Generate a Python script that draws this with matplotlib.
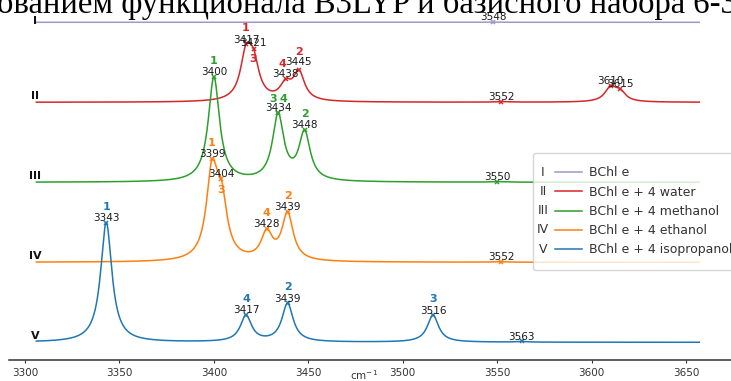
"""
Stacked IR spectra (O-H stretch region) of BChl e and its solvent complexes.
"""
import numpy as np
import matplotlib
matplotlib.use("Agg")
import matplotlib.pyplot as plt
from matplotlib.legend_handler import HandlerBase
from matplotlib.lines import Line2D
from matplotlib.text import Text

# spectra, top to bottom
numerals = ["I", "II", "III", "IV", "V"]
names = ["BChl e", "BChl e + 4 water", "BChl e + 4 methanol",
         "BChl e + 4 ethanol", "BChl e + 4 isopropanol"]
offsets = [320, 240, 160, 80, 0]

# stick frequencies (cm-1), intensities (arb.) and band numbers
freq_I = [3548]
int_I = [0.3]
band_I = [""]

freq_II = [3417, 3421, 3438, 3445, 3552, 3610, 3615]
int_II = [42.5, 33.3, 15.2, 28.1, 0.5, 13.6, 9.1]
band_II = ["1", "3", "4", "2", "", "", ""]

freq_III = [3400, 3434, 3434, 3448, 3550]
int_III = [104.4, 33.0, 32.5, 48.0, 0.5]
band_III = ["1", "3", "4", "2", ""]

freq_IV = [3399, 3404, 3428, 3439, 3552]
int_IV = [84.5, 52.9, 26.7, 46.9, 0.5]
band_IV = ["1", "3", "4", "2", ""]

freq_V = [3343, 3417, 3439, 3516, 3563]
int_V = [119.6, 26.0, 38.3, 27.0, 0.6]
band_V = ["1", "4", "2", "3", ""]

freqs = [freq_I, freq_II, freq_III, freq_IV, freq_V]
ints = [int_I, int_II, int_III, int_IV, int_V]
bands = [band_I, band_II, band_III, band_IV, band_V]

X_START, X_END = 3306, 3657
HWHM = 3.6

colors = ["#a097c8", "#d62728", "#2ca02c", "#ff7f0e", "#1f77b4"]

# label offsets in pixels (num_dy, idx_dx, idx_dy) where they differ from default
label_tweaks = {
    ("II", "1"): dict(num_dy=3.7, idx_dy=16.3),
    ("II", "3"): dict(num_dy=5.3, idx_dy=-10.3),
    ("II", "4"): dict(idx_dx=-3, idx_dy=14.7),
    ("II", "2"): dict(num_dy=7.3, idx_dy=17.3),
    ("III", "3"): dict(idx_dx=-5, idx_dy=14),
    ("III", "4"): dict(idx_dx=5, idx_dy=14),
    ("IV", "3"): dict(num_dy=5.7, idx_dy=-11),
}


def lorentz(xv, fr, it):
    f = np.asarray(fr, float)[:, None]
    a = np.asarray(it, float)[:, None]
    return (a * HWHM**2 / ((np.atleast_1d(xv) - f) ** 2 + HWHM**2)).sum(axis=0)


class NumeralHandler(HandlerBase):
    """legend handle drawn as 'IV ----': numeral left of a short line"""
    def __init__(self, numeral):
        super().__init__()
        self.numeral = numeral

    def create_artists(self, legend, orig_handle, xdescent, ydescent,
                       width, height, fontsize, trans):
        y = (height - ydescent) / 2
        ln = Line2D([0.66 * fontsize - xdescent, width - xdescent], [y, y],
                    color=orig_handle.get_color(), lw=orig_handle.get_linewidth(),
                    transform=trans)
        tx = Text(-0.3 * fontsize - xdescent, y, self.numeral, ha="center", va="center",
                  fontsize=fontsize, color="#333333", transform=trans)
        return [ln, tx]


fig = plt.figure(figsize=(7.31, 3.81), dpi=100)
ax = fig.add_axes([9 / 731, 21 / 381, 733.7 / 731, 355 / 381])

x = np.linspace(X_START, X_END, 3000)
handles = []
for num, name, off, fr, it, bd, col in zip(numerals, names, offsets, freqs, ints, bands, colors):
    y = off + lorentz(x, fr, it)
    h, = ax.plot(x, y, color=col, lw=1.1, label=name)
    handles.append(h)
    ypk = off + lorentz(np.asarray(fr, float), fr, it)
    ax.plot(fr, ypk, ls="none", marker="x", ms=3, mew=1.1, color=col)
    prev = None
    for f, yp, b in zip(fr, ypk, bd):
        tw = label_tweaks.get((num, b), {})
        if f != prev:
            ax.annotate(str(f), (f, yp), xytext=(0, tw.get("num_dy", 4.5)),
                        textcoords="offset pixels", ha="center", va="center",
                        fontsize=7.5, color="#1a1a1a")
        if b:
            ax.annotate(b, (f, yp), xytext=(tw.get("idx_dx", 0), tw.get("idx_dy", 16)),
                        textcoords="offset pixels", ha="center", va="center",
                        fontsize=8, fontweight="bold", color=col)
        prev = f
    ax.annotate(num, (3305.3, off), xytext=(0, 1.5 if num == "I" else 6.7),
                textcoords="offset pixels", ha="center", va="center",
                fontsize=8, fontweight="bold", color="#111111")

ax.set_xlim(3291.5, 3680)
ax.set_ylim(-17.7, 337.3)
for s in ("left", "right", "top"):
    ax.spines[s].set_visible(False)
ax.spines["bottom"].set_color("#333333")
ax.spines["bottom"].set_linewidth(1.1)
ax.set_yticks([])
ax.set_xticks(range(3300, 3651, 50))
ax.tick_params(axis="x", labelsize=7.5, length=2, pad=4, colors="#333333")
ax.set_xlabel("cm$^{-1}$", fontsize=7.5, color="#333333")
ax.xaxis.set_label_coords((364 - 9) / 733.7, -15 / 355)
ax.xaxis.label.set_va("center")

leg = ax.legend(handles, names, loc="upper left",
                bbox_to_anchor=((533 - 9) / 733.7, (360 - 152.7) / 355),
                borderaxespad=0, borderpad=1.1, fontsize=9,
                handlelength=2.82, handletextpad=0.56,
                handler_map={h: NumeralHandler(n) for h, n in zip(handles, numerals)})
for t in leg.get_texts():
    t.set_color("#333333")

# caption line of the page, cut off by the crop
fig.text(-3 / 731, (381 - 13.5) / 381, "ованием функционала B3LYP и базисного набора 6-31G",
         family="Liberation Serif", fontsize=23.5, va="baseline", ha="left")

fig.savefig("out.png", dpi=100)
